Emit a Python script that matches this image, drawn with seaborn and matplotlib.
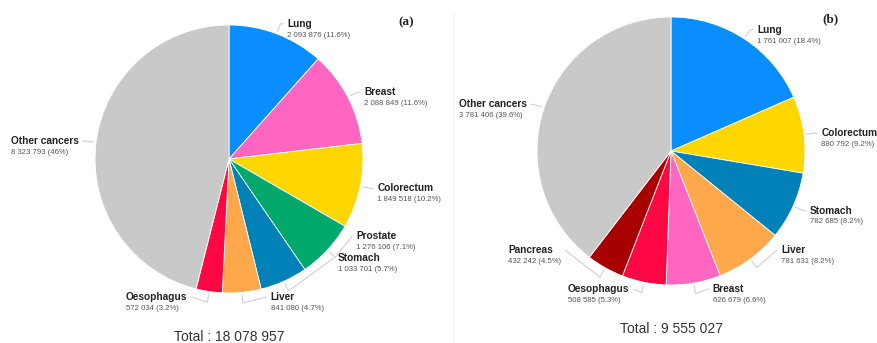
#############################################################################
##### Cancer incidence / mortality pies (a) and (b)

import numpy as np
import seaborn as sns
import matplotlib.pyplot as plt
from matplotlib.lines import Line2D

#### Data

names_a = ['Lung', 'Breast', 'Colorectum', 'Prostate', 'Stomach', 'Liver',
           'Oesophagus', 'Other cancers']
cases_a = [2093876, 2088849, 1849518, 1276106, 1033701, 841080, 572034, 8323793]
pcts_a = ['11.6%', '11.6%', '10.2%', '7.1%', '5.7%', '4.7%', '3.2%', '46%']
colors_a = ['#0a8dff', '#ff66c2', '#ffd600', '#00a86b', '#0081b8', '#ffa74b',
            '#ff0743', '#c9c9c9']

names_b = ['Lung', 'Colorectum', 'Stomach', 'Liver', 'Breast', 'Oesophagus',
           'Pancreas', 'Other cancers']
cases_b = [1761007, 880792, 782685, 781631, 626679, 508585, 432242, 3781406]
pcts_b = ['18.4%', '9.2%', '8.2%', '8.2%', '6.6%', '5.3%', '4.5%', '39.6%']
colors_b = ['#0a8dff', '#ffd600', '#0081b8', '#ffa74b', '#ff66c2', '#ff0743',
            '#a80000', '#c9c9c9']

# label positions that were moved by hand (radius units)
moved_a = {'Prostate': (0.95, -0.575), 'Stomach': (0.81, -0.74),
           'Liver': (0.31, -1.03), 'Oesophagus': (-0.31, -1.03)}
moved_b = {'Liver': (0.82, -0.74), 'Breast': (0.31, -1.03),
           'Oesophagus': (-0.31, -1.03), 'Pancreas': (-0.82, -0.74)}


def fmt(n):
    return f"{n:,}".replace(',', ' ')


#############################################################################
##### Pie with leader labels

def pie_panel(ax, names, cases, pcts, colors, moved, tag, tag_xy):
    wedges, _ = ax.pie(cases, colors=colors, startangle=90, counterclock=False,
                       radius=1, wedgeprops=dict(linewidth=0.6, edgecolor='white'))
    ax.set_xlim(-1, 1)
    ax.set_ylim(-1, 1)
    ax.set_aspect('auto')
    ax.axis('off')

    left_blocks = []
    for w, nm, n, p in zip(wedges, names, cases, pcts):
        ang = np.deg2rad((w.theta1 + w.theta2) / 2)
        ca, sa = np.cos(ang), np.sin(ang)
        x0, y0 = 1.02 * ca, 1.02 * sa
        x1, y1 = 1.08 * ca, 1.08 * sa
        if nm in moved:
            tx, ty = moved[nm]
        else:
            tx, ty = x1 + 0.05 * np.sign(ca), y1
        right = tx > 0
        gap = -0.03 if right else 0.03
        ax.plot([x0, x1, tx + gap], [y0, y1, ty], color='#d0d0d0', lw=0.8,
                clip_on=False, solid_capstyle='round')
        ha = 'left' if right else 'right'
        name = ax.text(tx, ty, nm, ha=ha, va='center', fontsize=7.3,
                       fontweight='bold', color='#222222', clip_on=False)
        val = ax.text(tx, ty - 0.085, f"{fmt(n)} ({p})", ha='left', va='center',
                      fontsize=5.6, color='#555555', clip_on=False)
        if not right:
            left_blocks.append((name, val))

    # left side: block right edge at the leader, lines left aligned
    fig = ax.figure
    rend = fig.canvas.get_renderer()
    inv = ax.transData.inverted()
    for name, val in left_blocks:
        bn = name.get_window_extent(rend)
        bv = val.get_window_extent(rend)
        right_px = bn.x1
        left_px = right_px - max(bn.width, bv.width)
        lx = inv.transform((left_px, 0))[0]
        name.set_x(lx)
        name.set_ha('left')
        val.set_x(lx)

    ax.text(tag_xy[0], tag_xy[1], tag, ha='center', va='center', fontsize=9.5,
            fontweight='bold', family='Liberation Serif', color='#222222')
    ax.text(0, -1.33, 'Total : ' + fmt(sum(cases)), ha='center', va='center',
            fontsize=10, color='#333333', clip_on=False)


#############################################################################
##### Figure

sns.set_style("white")
plt.rcParams['font.family'] = ['Liberation Sans', 'DejaVu Sans']

fig = plt.figure(figsize=(8.77, 3.43), dpi=100, facecolor='white')

ax_a = fig.add_axes([95 / 877, 50 / 343, 268 / 877, 268 / 343])
ax_b = fig.add_axes([537 / 877, 58 / 343, 268 / 877, 268 / 343])

pie_panel(ax_a, names_a, cases_a, pcts_a, colors_a, moved_a, '(a)', (1.32, 1.02))
pie_panel(ax_b, names_b, cases_b, pcts_b, colors_b, moved_b, '(b)', (1.19, 0.98))

fig.add_artist(Line2D([453 / 877, 453 / 877], [0, 1 - 12 / 343],
                      color='#f0f0f0', lw=0.8))

plt.savefig('out.png', dpi=100, facecolor='white')
